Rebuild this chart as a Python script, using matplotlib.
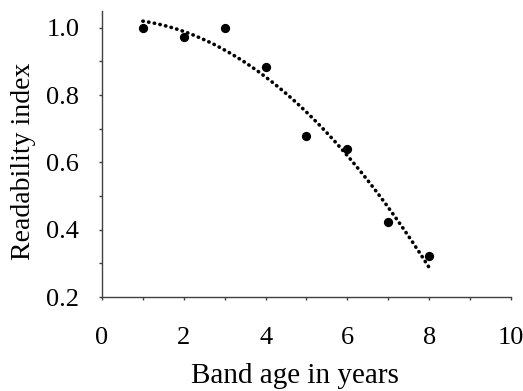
import numpy as np
import matplotlib
matplotlib.use("Agg")
import matplotlib.pyplot as plt
from matplotlib.ticker import MultipleLocator

age = [1, 2, 3, 4, 5, 6, 7, 8]
readability = [1.0, 0.974, 1.0, 0.883, 0.678, 0.641, 0.422, 0.323]
x_ticks = [0, 2, 4, 6, 8, 10]
y_ticks = [0.2, 0.4, 0.6, 0.8, 1.0]

plt.rcParams['font.family'] = ['Liberation Serif', 'DejaVu Serif']

fig = plt.figure(figsize=(5.23, 3.91), dpi=100)
ax = fig.add_axes([0.195, 0.240, 0.782, 0.732])

# quadratic trendline fit to the data
coef = np.polyfit(age, readability, 2)
xs = np.linspace(min(age), max(age), 200)
ax.plot(xs, np.polyval(coef, xs), color='black', linestyle=(0, (0.1, 1.5)),
        linewidth=2.6, dash_capstyle='round', zorder=2)
ax.scatter(age, readability, s=32, color='black', zorder=3)

ax.set_xlim(0, 10)
ax.set_ylim(0.2, 1.05)
ax.set_xticks(x_ticks)
ax.set_xticklabels([str(v) for v in x_ticks])
ax.set_yticks(y_ticks)
ax.set_yticklabels([f"{v:.1f}" for v in y_ticks])
ax.xaxis.set_minor_locator(MultipleLocator(1))
ax.yaxis.set_minor_locator(MultipleLocator(0.1))

for s in ['top', 'right']:
    ax.spines[s].set_visible(False)
for s in ['left', 'bottom']:
    ax.spines[s].set_color('#404040')
    ax.spines[s].set_linewidth(1.0)

ax.tick_params(axis='both', which='both', direction='out', length=2.4,
               width=1.0, color='#404040', labelsize=19, labelcolor='black')
ax.tick_params(axis='x', which='major', pad=19)
ax.tick_params(axis='y', which='major', pad=14)

ax.set_xlabel('Band age in years', fontsize=21, labelpad=10.5, x=0.472)
ax.set_ylabel('Readability index', fontsize=20, labelpad=7, y=0.474)

fig.savefig('out.png', dpi=100)
